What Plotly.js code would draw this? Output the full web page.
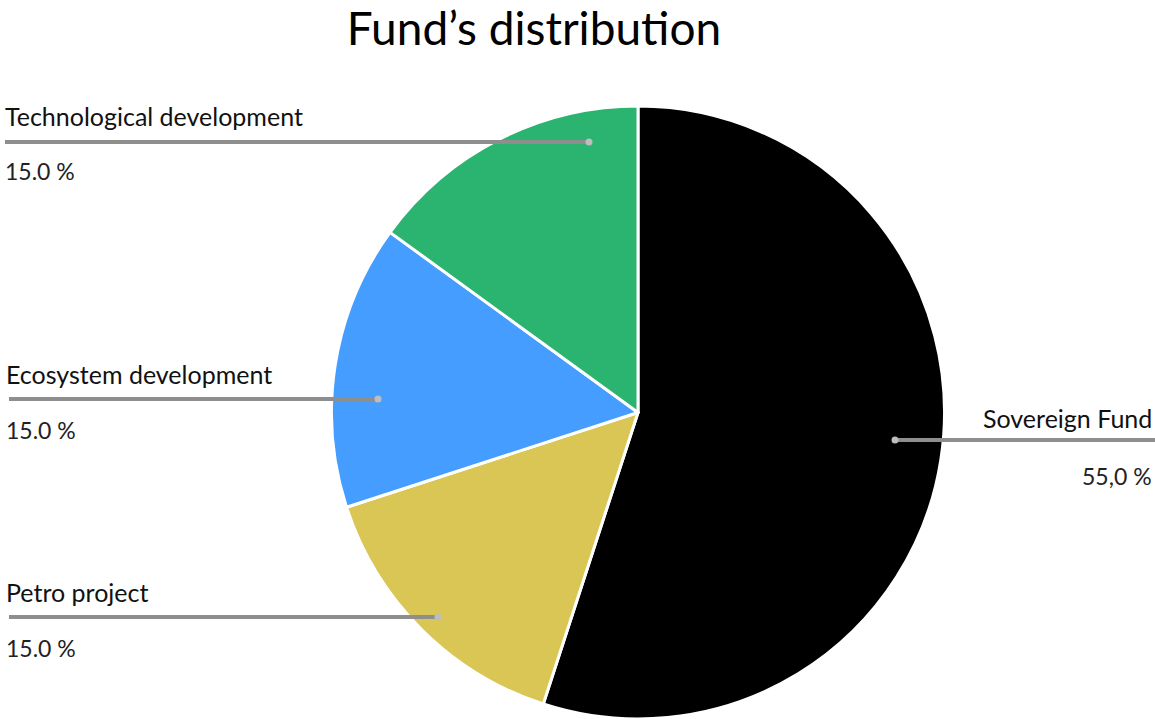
<!DOCTYPE html>
<html>
<head>
<meta charset="utf-8">
<script src="https://cdn.plot.ly/plotly-3.0.1.min.js"></script>
<style>html,body{margin:0;padding:0;background:#fff;}#chart{width:1155px;height:719px;}</style>
</head>
<body>
<div id="chart"></div>
<script>
const labels = ["Sovereign Fund", "Petro project", "Ecosystem development", "Technological development"];
const values = [55, 15, 15, 15];
const pctText = ["55,0 %", "15.0 %", "15.0 %", "15.0 %"];
const colors = ["#000000", "#DAC654", "#449DFF", "#2AB46F"];

const W = 1155, H = 719;
const px = x => x / W;
const py = y => 1 - y / H;

// label layout: [labelX, labelY, pctY, lineX0, lineX1, lineY, align]
const labelPos = [
  [1154, 418, 476, 895, 1155, 440, "right"],
  [4, 592, 648, 9, 438, 617, "left"],
  [4, 374, 430, 9, 378, 399, "left"],
  [3, 116, 171, 5, 589, 142, "left"]
];

const font = "Lato, 'Open Sans', sans-serif";
const annotations = [];
const shapes = [];
labels.forEach((lab, i) => {
  const p = labelPos[i];
  annotations.push({xref:"paper", yref:"paper", x:px(p[0]), y:py(p[1]), text:lab, showarrow:false,
    xanchor:p[6], yanchor:"middle", font:{family:font, size:25, color:"#111"}});
  annotations.push({xref:"paper", yref:"paper", x:px(p[0]), y:py(p[2]), text:pctText[i], showarrow:false,
    xanchor:p[6], yanchor:"middle", font:{family:font, size:23, color:"#222"}});
  shapes.push({type:"line", xref:"paper", yref:"paper", x0:px(p[3]), x1:px(p[4]), y0:py(p[5]), y1:py(p[5]),
    line:{color:"#8E8E8E", width:4}});
  const dx = p[6] === "right" ? p[3] : p[4];
  shapes.push({type:"circle", xref:"paper", yref:"paper", x0:px(dx-3.5), x1:px(dx+3.5), y0:py(p[5]-3.5), y1:py(p[5]+3.5),
    fillcolor:"#BDBDBD", line:{width:0}});
});

const data = [{
  type:"pie", labels:labels, values:values, sort:false, direction:"clockwise", rotation:0,
  marker:{colors:colors, line:{color:"#ffffff", width:3}},
  textinfo:"none", hoverinfo:"label+percent", showlegend:false,
  domain:{x:[px(331), px(945)], y:[py(720), py(106)]}
}];

const layout = {
  width:W, height:H, margin:{l:0, r:0, t:0, b:0},
  paper_bgcolor:"#fff", plot_bgcolor:"#fff",
  title:{text:"Fund’s distribution", x:534/W, xanchor:"center", y:1-29/H, yanchor:"middle",
    font:{family:font, size:46, color:"#000"}},
  annotations:annotations, shapes:shapes
};

Plotly.newPlot("chart", data, layout, {displayModeBar:false});
</script>
</body>
</html>
